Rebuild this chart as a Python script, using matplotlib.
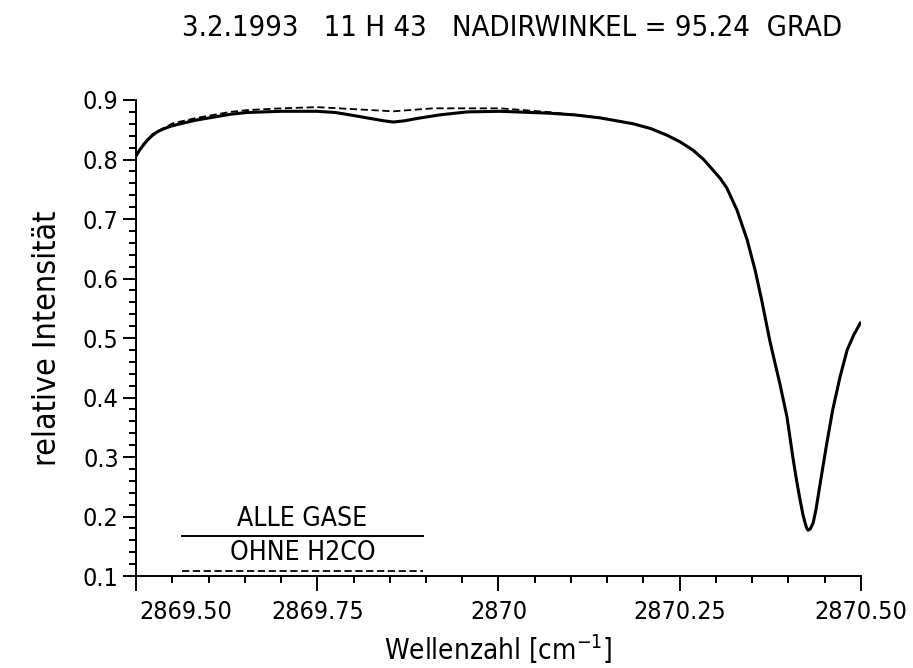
import matplotlib
matplotlib.use("Agg")
import matplotlib.pyplot as plt
import matplotlib.transforms as mtransforms
from matplotlib.lines import Line2D
from matplotlib.ticker import MultipleLocator, FixedLocator, FixedFormatter

plt.rcParams['font.family'] = ['DejaVu Sans']
plt.rcParams['font.stretch'] = 'condensed'

# --- data ---
# ALLE GASE (solid)
alle_x = [2869.501, 2869.505, 2869.510, 2869.516, 2869.523, 2869.530, 2869.537,
          2869.548, 2869.561, 2869.582, 2869.606, 2869.630, 2869.653, 2869.700,
          2869.750, 2869.775, 2869.795, 2869.823, 2869.842, 2869.855, 2869.870,
          2869.888, 2869.919, 2869.957, 2870.002, 2870.067, 2870.105, 2870.140,
          2870.186, 2870.210, 2870.232, 2870.250, 2870.268, 2870.283, 2870.296,
          2870.306, 2870.315, 2870.329, 2870.343, 2870.354, 2870.363, 2870.374,
          2870.381, 2870.388, 2870.398, 2870.406, 2870.411, 2870.416, 2870.420,
          2870.423, 2870.425, 2870.427, 2870.430, 2870.434, 2870.438, 2870.443,
          2870.453, 2870.461, 2870.471, 2870.481, 2870.490, 2870.499]
alle_y = [0.808, 0.816, 0.824, 0.833, 0.841, 0.847, 0.851,
          0.856, 0.860, 0.866, 0.871, 0.876, 0.879, 0.881,
          0.881, 0.879, 0.875, 0.869, 0.865, 0.863, 0.865,
          0.869, 0.875, 0.880, 0.881, 0.878, 0.875, 0.870,
          0.860, 0.852, 0.841, 0.830, 0.816, 0.800, 0.782,
          0.768, 0.752, 0.715, 0.665, 0.614, 0.564, 0.497,
          0.460, 0.424, 0.367, 0.300, 0.262, 0.228, 0.203,
          0.189, 0.181, 0.177, 0.179, 0.189, 0.212, 0.250,
          0.324, 0.379, 0.434, 0.480, 0.505, 0.525]

# OHNE H2CO (dashed)
ohne_x = [2869.501, 2869.510, 2869.523, 2869.551, 2869.584, 2869.630, 2869.653,
          2869.700, 2869.750, 2869.795, 2869.855, 2869.910, 2870.002, 2870.067,
          2870.105, 2870.140, 2870.186, 2870.210, 2870.232, 2870.250, 2870.268,
          2870.283, 2870.296, 2870.306, 2870.315, 2870.329, 2870.343, 2870.354,
          2870.363, 2870.374, 2870.381, 2870.388, 2870.398, 2870.406, 2870.411,
          2870.416, 2870.420, 2870.423, 2870.425, 2870.427, 2870.430, 2870.434,
          2870.438, 2870.443, 2870.453, 2870.461, 2870.471, 2870.481, 2870.490,
          2870.499]
ohne_y = [0.808, 0.826, 0.843, 0.861, 0.870, 0.880, 0.883,
          0.886, 0.888, 0.885, 0.881, 0.886, 0.886, 0.880,
          0.875, 0.870, 0.860, 0.852, 0.841, 0.830, 0.816,
          0.800, 0.782, 0.768, 0.752, 0.715, 0.665, 0.614,
          0.564, 0.497, 0.460, 0.424, 0.367, 0.300, 0.262,
          0.228, 0.203, 0.189, 0.181, 0.177, 0.179, 0.189,
          0.212, 0.250, 0.324, 0.379, 0.434, 0.480, 0.505,
          0.525]

x_ticks = [2869.50, 2869.75, 2870.00, 2870.25, 2870.50]
x_ticklabels = ["2869.50", "2869.75", "2870", "2870.25", "2870.50"]
y_ticks = [0.1, 0.2, 0.3, 0.4, 0.5, 0.6, 0.7, 0.8, 0.9]

title = "3.2.1993   11 H 43   NADIRWINKEL = 95.24  GRAD"

fig = plt.figure(figsize=(9.13, 6.68), dpi=100)
ax = fig.add_axes([0.149, 0.1377, 0.794, 0.7126])

ax.plot(ohne_x, ohne_y, color='black', lw=1.3, linestyle=(0, (4, 2)))
ax.plot(alle_x, alle_y, color='black', lw=2.2)

ax.set_xlim(2869.5, 2870.5)
ax.set_ylim(0.1, 0.9)

for s in ['top', 'right']:
    ax.spines[s].set_visible(False)
for s in ['left', 'bottom']:
    ax.spines[s].set_linewidth(1.4)

ax.xaxis.set_major_locator(FixedLocator(x_ticks))
ax.xaxis.set_major_formatter(FixedFormatter(x_ticklabels))
ax.xaxis.set_minor_locator(MultipleLocator(0.05))
ax.yaxis.set_major_locator(FixedLocator(y_ticks))
ax.yaxis.set_minor_locator(MultipleLocator(0.02))

ax.tick_params(axis='x', which='major', direction='out', length=11, width=1.4,
               labelsize=18, pad=6)
ax.tick_params(axis='x', which='minor', direction='out', length=5, width=1.4)
ax.tick_params(axis='y', which='major', direction='out', length=9.5, width=1.4,
               labelsize=18, pad=3)
ax.tick_params(axis='y', which='minor', direction='out', length=5, width=1.4)

# first x label sits to the right of the y axis
lbl0 = ax.get_xticklabels()[0]
lbl0.set_transform(lbl0.get_transform() +
                   mtransforms.ScaledTranslation(0.5, 0, fig.dpi_scale_trans))

ax.set_xlabel("Wellenzahl [cm$^{-1}$]", fontsize=20, labelpad=6)
ax.set_ylabel("relative Intensität", fontsize=23, labelpad=14)
fig.text(0.561, 0.958, title, ha='center', va='center', fontsize=21)

# legend drawn the plotter way: text over a line sample
ax.add_line(Line2D([0.063, 0.396], [0.084, 0.084], transform=ax.transAxes,
                   color='black', lw=1.4))
ax.add_line(Line2D([0.063, 0.396], [0.0105, 0.0105], transform=ax.transAxes,
                   color='black', lw=1.3, linestyle=(0, (4, 2))))
ax.text(0.2295, 0.092, "ALLE GASE", transform=ax.transAxes, ha='center',
        va='bottom', fontsize=19)
ax.text(0.2295, 0.022, "OHNE H2CO", transform=ax.transAxes, ha='center',
        va='bottom', fontsize=19)

fig.savefig("out.png", dpi=100)
